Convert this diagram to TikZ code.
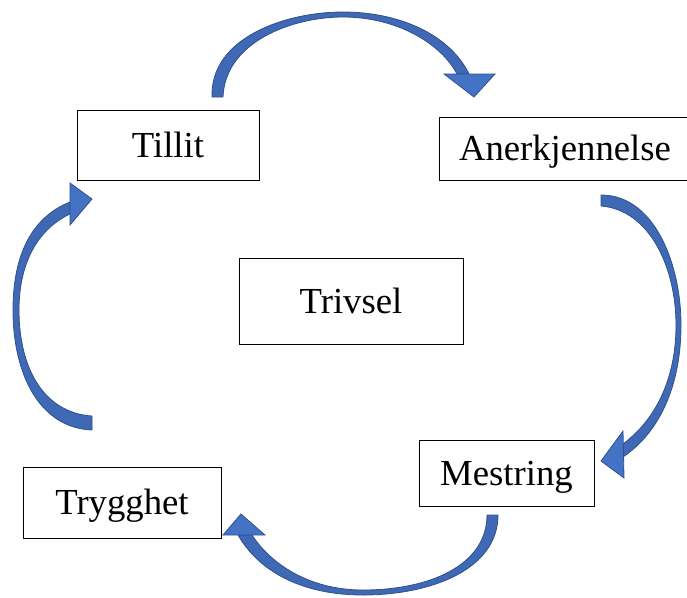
\documentclass[tikz,border=0pt]{standalone}
\usepackage{fontspec}
\setmainfont{Liberation Serif}
\definecolor{arrowfill}{HTML}{3F68B5}
\definecolor{arrowedge}{HTML}{2F528F}
\definecolor{headfill}{HTML}{4472C4}
\begin{document}
\begin{tikzpicture}[x=1pt,y=-1pt,
  box/.style={draw=black,line width=1pt,inner sep=0pt,text height=24.3pt,text depth=0pt,
    font=\fontsize{36.7}{40}\selectfont},
  band/.style={fill=arrowfill,draw=arrowedge,line width=0.8pt,line join=round},
  head/.style={fill=headfill,draw=arrowedge,line width=0.8pt,line join=miter}]
\useasboundingbox (0,0) rectangle (687,597);
% boxes
\node[box,minimum width=182pt,minimum height=70pt] (tillit) at (168,145) {Tillit};
\node[box,minimum width=252pt,minimum height=63pt] (anerk) at (565,148.5) {Anerkjennelse};
\node[box,minimum width=175pt,minimum height=66pt] (mestring) at (506.5,473) {Mestring};
\node[box,minimum width=198pt,minimum height=71pt] (trygghet) at (122,502.5) {Trygghet};
\node[box,minimum width=224pt,minimum height=86pt] (trivsel) at (351,301) {Trivsel};
% top arrow (Tillit -> Anerkjennelse)
\path[band] (212,97) .. controls (210,38) and (285,12) .. (343,12)
  .. controls (400,12) and (450,35) .. (469,74)
  -- (457,74) .. controls (440,42) and (395,17) .. (343,17)
  .. controls (292,17) and (225,42) .. (223,97) -- cycle;
\path[head] (444,74) -- (495,74) -- (474,97) -- cycle;
% right arrow (Anerkjennelse -> Mestring)
\path[band] (601,195) .. controls (655,195) and (681,265) .. (681,325)
  .. controls (681,385) and (660,432) .. (623,457)
  -- (623,444) .. controls (655,420) and (676,380) .. (676,325)
  .. controls (676,268) and (650,210) .. (601,206) -- cycle;
\path[head] (623,431) -- (601,461) -- (624,478) -- cycle;
% bottom arrow (Mestring -> Trygghet)
\path[band] (498,515) .. controls (498,570) and (430,595) .. (363,595)
  .. controls (300,595) and (258,570) .. (238,535)
  -- (252,535) .. controls (268,560) and (305,590) .. (363,590)
  .. controls (430,590) and (487,565) .. (487,515) -- cycle;
\path[head] (223,535) -- (265,535) -- (241,514) -- cycle;
% left arrow (Trygghet -> Tillit)
\path[band] (92,430) .. controls (40,428) and (13,375) .. (13,310)
  .. controls (13,250) and (35,216) .. (70,202)
  -- (70,214) .. controls (40,228) and (19,260) .. (19,310)
  .. controls (19,370) and (45,413) .. (92,416) -- cycle;
\path[head] (70,183) -- (92,199) -- (70,225) -- cycle;
\end{tikzpicture}
\end{document}
